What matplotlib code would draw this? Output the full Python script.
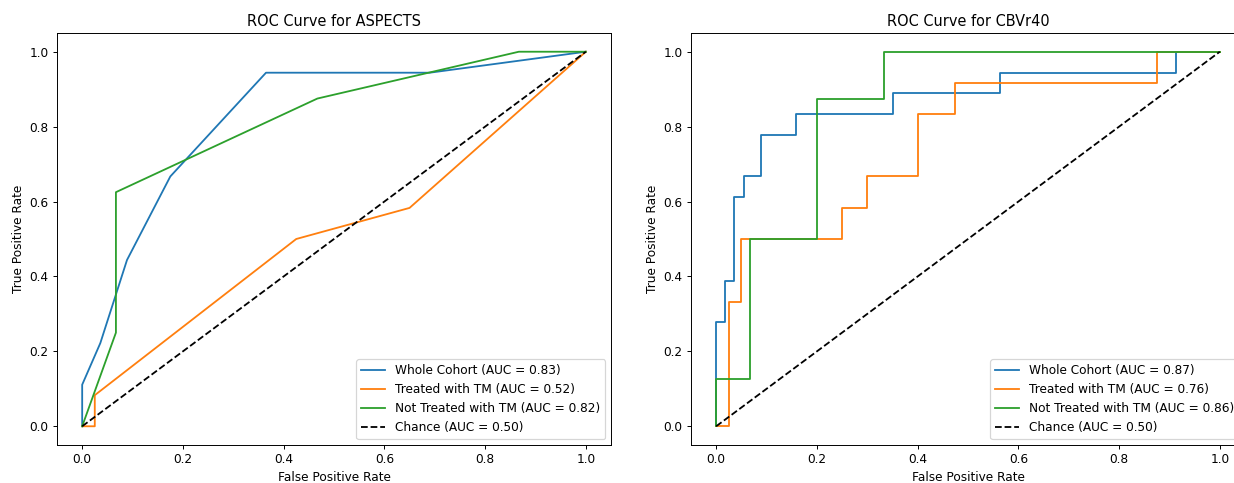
"""
ROC curves for ASPECTS and CBVr40 (whole cohort vs. TM subgroups)
"""
import matplotlib
matplotlib.use('Agg')
import matplotlib.pyplot as plt

# ---- ASPECTS ----
aspects_whole_fpr = [0, 0, 0.036, 0.089, 0.175, 0.365, 0.69, 1.0]
aspects_whole_tpr = [0, 0.111, 0.222, 0.444, 0.667, 0.944, 0.944, 1.0]
aspects_tm_fpr = [0, 0.025, 0.025, 0.425, 0.65, 1.0]
aspects_tm_tpr = [0, 0, 0.083, 0.5, 0.583, 1.0]
aspects_notm_fpr = [0, 0.067, 0.067, 0.467, 0.867, 1.0]
aspects_notm_tpr = [0, 0.25, 0.625, 0.875, 1.0, 1.0]
aspects_auc = [0.83, 0.52, 0.82]

# ---- CBVr40 ----
cbv_whole_fpr = [0, 0, 0.018, 0.018, 0.036, 0.036, 0.055, 0.055, 0.089, 0.089,
                 0.159, 0.159, 0.351, 0.351, 0.563, 0.563, 0.913, 0.913, 1.0]
cbv_whole_tpr = [0, 0.278, 0.278, 0.389, 0.389, 0.611, 0.611, 0.667, 0.667, 0.778,
                 0.778, 0.833, 0.833, 0.889, 0.889, 0.944, 0.944, 1.0, 1.0]
cbv_tm_fpr = [0, 0.025, 0.025, 0.05, 0.05, 0.25, 0.25, 0.3, 0.3, 0.4, 0.4,
              0.475, 0.475, 0.875, 0.875, 1.0]
cbv_tm_tpr = [0, 0, 0.333, 0.333, 0.5, 0.5, 0.583, 0.583, 0.667, 0.667, 0.833,
              0.833, 0.917, 0.917, 1.0, 1.0]
cbv_notm_fpr = [0, 0, 0.067, 0.067, 0.2, 0.2, 0.333, 0.333, 1.0]
cbv_notm_tpr = [0, 0.125, 0.125, 0.5, 0.5, 0.875, 0.875, 1.0, 1.0]
cbv_auc = [0.87, 0.76, 0.86]

group_names = ['Whole Cohort', 'Treated with TM', 'Not Treated with TM']


def plot_roc(ax, curves, aucs, name):
    for (fpr, tpr), label, auc in zip(curves, group_names, aucs):
        ax.plot(fpr, tpr, label=f'{label} (AUC = {auc:.2f})')
    ax.plot([0, 1], [0, 1], 'k--', label='Chance (AUC = 0.50)')
    ax.set_xlabel('False Positive Rate')
    ax.set_ylabel('True Positive Rate')
    ax.set_title(f'ROC Curve for {name}')
    ax.legend(loc='lower right')


s = 0.87
fig = plt.figure(figsize=(1234 / (100 * s), 483 / (100 * s)), dpi=100 * s)
ax1 = fig.add_axes([57 / 1234, 38 / 483, 554 / 1234, 412 / 483])
ax2 = fig.add_axes([691 / 1234, 38 / 483, 554 / 1234, 412 / 483])

plot_roc(ax1, [(aspects_whole_fpr, aspects_whole_tpr),
               (aspects_tm_fpr, aspects_tm_tpr),
               (aspects_notm_fpr, aspects_notm_tpr)], aspects_auc, 'ASPECTS')
plot_roc(ax2, [(cbv_whole_fpr, cbv_whole_tpr),
               (cbv_tm_fpr, cbv_tm_tpr),
               (cbv_notm_fpr, cbv_notm_tpr)], cbv_auc, 'CBVr40')

fig.savefig('out.png', dpi=100 * s)
